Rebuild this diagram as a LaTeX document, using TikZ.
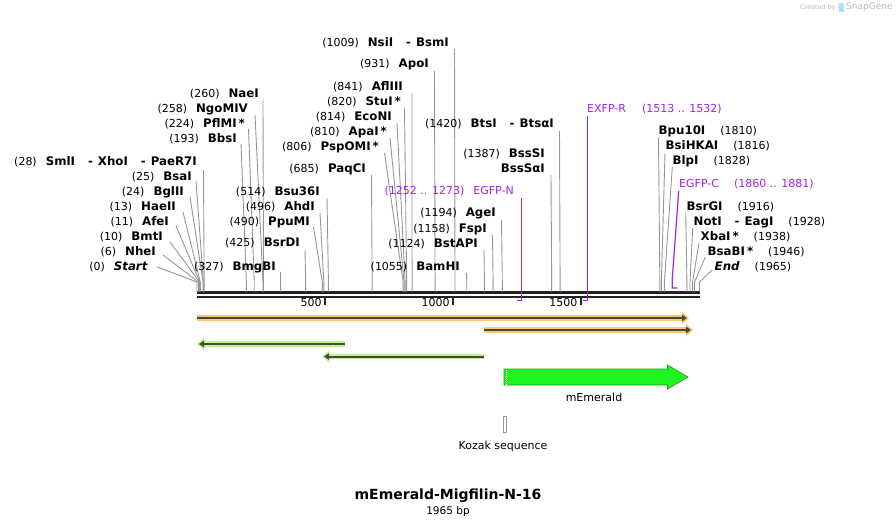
\documentclass[tikz,border=0pt]{standalone}
\usepackage{fontspec}
\setmainfont{DejaVu Sans}
\usetikzlibrary{arrows.meta}
\definecolor{sitegray}{RGB}{150,150,150}
\definecolor{seqdark}{RGB}{35,35,35}
\definecolor{primerpurple}{RGB}{160,32,240}
\definecolor{featorange}{RGB}{255,200,110}
\definecolor{featgreen}{RGB}{190,245,140}
\definecolor{featcore}{RGB}{72,72,60}
\definecolor{emerald}{RGB}{30,245,30}
\definecolor{emeraldedge}{RGB}{40,150,40}
\definecolor{creditgray}{RGB}{185,185,185}
\newcommand{\nm}[1]{{\fontsize{11.8}{13}\selectfont\textbf{#1}}}
\newcommand{\enz}[2]{(#1)\hspace{9pt}\nm{#2}}
\newcommand{\enzr}[2]{\nm{#1}\hspace{15pt}(#2)}
\newcommand{\dd}{\hspace{13pt}-\hspace{5pt}}
\tikzset{
  lab/.style={inner sep=0pt, font=\fontsize{11}{13}\selectfont, text height=8pt, text depth=0.5pt},
  site/.style={sitegray, line width=0.9pt},
  primer/.style={primerpurple, line width=1.2pt},
  seq/.style={seqdark, line width=2.5pt},
  halo/.style={line width=5.5pt, -{Triangle[length=7pt,width=12pt]}},
  core/.style={featcore, line width=2pt, shorten >=2pt, -{Triangle[length=5pt,width=6.5pt]}},
}
\begin{document}
\begin{tikzpicture}[x=1pt,y=-1pt]
	\useasboundingbox (0,0) rectangle (896,527);
	% sequence bar and scale
	\coordinate (seqA) at (197,292.3);
	\coordinate (seqB) at (700,292.3);
	\coordinate (seqC) at (197,296.8);
	\coordinate (seqD) at (700,296.8);
	\draw[seq] (seqA) -- (seqB);
	\draw[seq] (seqC) -- (seqD);
	\foreach \t in {500,1000,1500}{
		\pgfmathsetmacro{\tx}{197+0.2557*\t}
		\draw[seqdark,line width=2pt] (\tx,297) -- (\tx,304.5);
		\node[lab,anchor=east] (tick\t) at (\tx-3,303) {\t};
	}
	% sites, labels left of their line
	\foreach \id/\ex/\ey/\txt/\bp/\lx/\ly in {
		a/197/162/{\enz{28}{SmlI\dd XhoI\dd PaeR7I}}/28/203.5/170,
		b/192/177/{\enz{25}{BsaI}}/25/196/181,
		c/184/192/{\enz{24}{BglII}}/24/190/197,
		d/176/207/{\enz{13}{HaeII}}/13/183/212,
		e/169/222/{\enz{11}{AfeI}}/11/176/226,
		f/163/237/{\enz{10}{BmtI}}/10/170/242,
		g/156/252/{\enz{6}{NheI}}/6/163/255,
		h/148/267/{\enz{0}{\textit{Start}}}/0/157/267,
		i/259/94/{\enz{260}{NaeI}}/260/263/100,
		j/248/109/{\enz{258}{NgoMIV}}/258/255/115,
		k/245/124/{\enz{224}{PflMI\,*}}/224/248.5/129,
		l/237/139/{\enz{193}{BbsI}}/193/241/144,
		m/320/192/{\enz{514}{Bsu36I}}/514/327/198,
		n/315/207/{\enz{496}{AhdI}}/496/320/213,
		o/310/222/{\enz{490}{PpuMI}}/490/313.5/227,
		p/300/243/{\enz{425}{BsrDI}}/425/305/250,
		q/276/267/{\enz{327}{BmgBI}}/327/280.5/272,
		r/366/169/{\enz{685}{PaqCI}}/685/371.5/175,
		s/379/147/{\enz{806}{PspOMI\,*}}/806/384.5/153,
		t/387/132/{\enz{810}{ApaI\,*}}/810/390/138,
		u/392/117/{\enz{814}{EcoNI}}/814/397/123,
		v/401/102/{\enz{820}{StuI\,*}}/820/404.5/108,
		w/403/87/{\enz{841}{AflIII}}/841/412/93,
		x/429/64/{\enz{931}{ApoI}}/931/434.5/71,
		y/449/43/{\enz{1009}{NsiI\dd BsmI}}/1009/454.5/49,
		z/460/267/{\enz{1055}{BamHI}}/1055/466.5/273,
		A/478/244/{\enz{1124}{BstAPI}}/1124/484/250,
		B/487/229/{\enz{1158}{FspI}}/1158/492.5/235,
		C/496/213/{\enz{1194}{AgeI}}/1194/501.5/220,
		D/545/154/{\enz{1387}{BssSI}}/1387/551/175,
		E/554/124/{\enz{1420}{BtsI\dd BtsαI}}/1420/559.5/131}{
		\pgfmathsetmacro{\sx}{197+0.2557*\bp}
		\node[lab,anchor=east] (e\id) at (\ex,\ey) {\txt};
		\coordinate (t\id) at (\lx,\ly);
		\coordinate (k\id) at (\sx,282);
		\coordinate (c\id) at (\sx,291.5);
		\draw[site] (t\id) -- (k\id) -- (c\id);
	}
	\node[lab,anchor=east] (eDD) at (545,169) {\nm{BssSαI}};
	% sites, labels right of their line
	\foreach \id/\wx/\wy/\txt/\bp/\lx/\ly in {
		F/658.5/131/{\enzr{Bpu10I}{1810}}/1810/658.5/138,
		G/665.5/146/{\enzr{BsiHKAI}{1816}}/1816/665/153,
		H/672.5/161/{\enzr{BlpI}{1828}}/1828/672.3/167,
		I/686.5/207/{\enzr{BsrGI}{1916}}/1916/685.7/213,
		J/693.5/222/{\enzr{NotI\dd EagI}{1928}}/1928/692.7/228,
		K/700.5/237/{\enzr{XbaI\,*}{1938}}/1938/699/243,
		L/707.5/252/{\enzr{BsaBI\,*}{1946}}/1946/705.3/257,
		M/714.5/267/{\enzr{\textit{End}}{1965}}/1965/712.3/270}{
		\pgfmathsetmacro{\sx}{197+0.2557*\bp}
		\node[lab,anchor=west] (e\id) at (\wx,\wy) {\txt};
		\coordinate (t\id) at (\lx,\ly);
		\coordinate (k\id) at (\sx,282);
		\coordinate (c\id) at (\sx,291.5);
		\draw[site] (t\id) -- (k\id) -- (c\id);
	}
	% primers
	\node[lab,anchor=east,primerpurple] (pN) at (514,191) {(1252 .. 1273)\hspace{9pt}EGFP-N};
	\coordinate (pNt) at (521.5,198);
	\coordinate (pNb) at (521.5,300.7);
	\coordinate (pNe) at (516.5,300.7);
	\draw[primer] (pNt) -- (pNb) -- (pNe);
	\node[lab,anchor=west,primerpurple] (pR) at (587,109) {EXFP-R\hspace{16pt}(1513 .. 1532)};
	\coordinate (pRt) at (587.5,116);
	\coordinate (pRb) at (587.5,300.7);
	\coordinate (pRe) at (583.3,300.7);
	\draw[primer] (pRt) -- (pRb) -- (pRe);
	\node[lab,anchor=west,primerpurple] (pC) at (679,184) {EGFP-C\hspace{15pt}(1860 .. 1881)};
	\coordinate (pCt) at (678.7,191);
	\coordinate (pCk) at (672.3,278);
	\coordinate (pCb) at (672.3,288);
	\coordinate (pCe) at (677.5,288);
	\draw[primer] (pCt) -- (pCk) -- (pCb) -- (pCe);
	% features
	\coordinate (o1s) at (197,318);
	\coordinate (o1e) at (689,318);
	\coordinate (o2s) at (484,330);
	\coordinate (o2e) at (693,330);
	\coordinate (g1s) at (345,344);
	\coordinate (g1e) at (197,344);
	\coordinate (g2s) at (484,356.5);
	\coordinate (g2e) at (322,356.5);
	\draw[halo,featorange] (o1s) -- (o1e);
	\draw[core] (o1s) -- (o1e);
	\draw[halo,featorange] (o2s) -- (o2e);
	\draw[core] (o2s) -- (o2e);
	\draw[halo,featgreen] (g1s) -- (g1e);
	\draw[core] (g1s) -- (g1e);
	\draw[halo,featgreen] (g2s) -- (g2e);
	\draw[core] (g2s) -- (g2e);
	\filldraw[fill=emerald,draw=emeraldedge,line width=0.6pt]
		(504,369) -- (667.5,369) -- (667.5,365) -- (688,377) -- (667.5,389) -- (667.5,385) -- (504,385) -- cycle;
	\draw[white,line width=0.8pt,dash pattern=on 1pt off 1pt] (506,369.5) -- (506,384.5);
	\node[lab] (mem) at (594,398) {mEmerald};
	\draw[sitegray,line width=0.9pt,fill=white] (503,416) rectangle (506,432);
	\node[lab] (kozak) at (503,445.5) {Kozak sequence};
	% title
	\node[inner sep=0pt,font=\bfseries\fontsize{14}{16}\selectfont] (title) at (448,495.5) {mEmerald-Migfilin-N-16};
	\node[lab,font=\fontsize{10.5}{12}\selectfont] (len) at (448,511) {1965 bp};
	% credit
	\node[inner sep=0pt,anchor=east,creditgray,font=\fontsize{6.5}{7}\selectfont] (credit) at (836,7.5) {Created by};
	\fill[cyan!35,rounded corners=1pt] (838.5,3) rectangle (844,12);
	\node[inner sep=0pt,anchor=west,creditgray,font=\fontsize{9}{10}\selectfont] (sg) at (846,7.5) {SnapGene};
\end{tikzpicture}
\end{document}
